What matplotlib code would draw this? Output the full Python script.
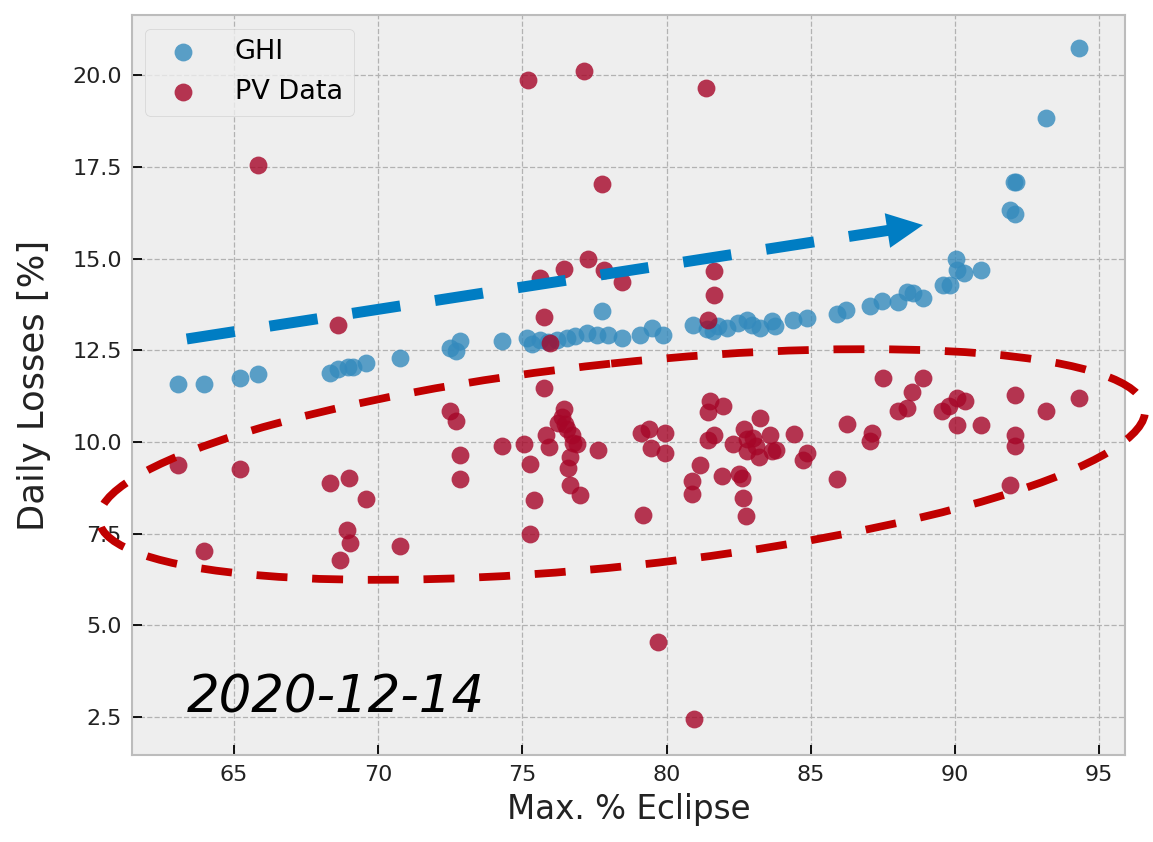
import matplotlib
matplotlib.use('Agg')
import matplotlib.pyplot as plt
from matplotlib.patches import Ellipse, Polygon
from matplotlib.lines import Line2D
from matplotlib.transforms import Affine2D

# ---------------- data ----------------
ghi_x = [63.06, 63.96, 65.21, 65.82, 68.33, 68.62, 68.96, 69.14, 69.58, 70.76,
         72.49, 72.70, 72.84, 74.29, 75.15, 75.33, 75.61, 75.89, 76.19, 76.54,
         76.83, 77.23, 77.58, 77.75, 77.98, 78.45, 79.08, 79.49, 79.89, 80.93,
         81.40, 81.62, 81.79, 82.09, 82.49, 82.78, 82.97, 83.24, 83.65, 83.77,
         84.40, 84.86, 85.91, 86.23, 87.06, 87.47, 88.04, 88.35, 88.56, 88.89,
         89.58, 89.83, 90.04, 90.07, 90.30, 90.90, 91.92, 92.09, 92.05, 92.12,
         93.16, 94.29]
ghi_y = [11.59, 11.59, 11.75, 11.86, 11.87, 11.98, 12.04, 12.04, 12.14, 12.28,
         12.57, 12.48, 12.75, 12.75, 12.84, 12.66, 12.79, 12.74, 12.79, 12.84,
         12.88, 12.98, 12.93, 13.57, 12.93, 12.84, 12.93, 13.11, 12.93, 13.20,
         13.07, 13.02, 13.15, 13.11, 13.25, 13.34, 13.18, 13.11, 13.29, 13.16,
         13.34, 13.39, 13.50, 13.61, 13.72, 13.84, 13.81, 14.08, 14.07, 13.93,
         14.29, 14.27, 15.00, 14.70, 14.61, 14.70, 16.34, 16.23, 17.09, 17.09,
         18.85, 20.76]

pv_x = [63.07, 63.96, 65.21, 65.82, 68.33, 68.60, 68.68, 68.93, 69.00, 69.02,
        69.57, 70.76, 72.49, 72.70, 72.84, 72.84, 74.29, 75.07, 75.21, 75.27,
        75.41, 75.27, 75.61, 75.76, 75.76, 75.82, 75.92, 75.96, 76.25, 76.46,
        76.45, 76.54, 76.71, 76.77, 76.65, 76.60, 76.65, 77.01, 77.14, 77.29,
        77.64, 77.77, 77.84, 78.47, 79.12, 79.40, 79.46, 79.93, 79.95, 79.17,
        79.71, 80.90, 80.90, 80.97, 81.16, 81.37, 81.45, 81.66, 81.66, 81.52,
        81.45, 81.95, 81.45, 81.65, 81.93, 82.32, 82.50, 82.63, 82.64, 82.77,
        82.67, 82.78, 83.00, 82.78, 83.12, 83.22, 83.24, 83.59, 83.65, 83.80,
        84.42, 84.87, 84.75, 85.91, 86.25, 87.06, 87.12, 87.50, 88.04, 88.33,
        88.53, 88.88, 89.55, 89.81, 90.07, 90.36, 90.07, 90.90, 92.07, 92.07,
        92.07, 91.92, 93.16, 94.29, 76.48, 76.90, 76.38]
pv_y = [9.36, 7.01, 9.25, 17.55, 8.87, 13.18, 6.78, 7.61, 9.02, 7.23,
        8.43, 7.16, 10.84, 10.57, 9.63, 8.98, 9.90, 9.95, 19.88, 9.39,
        8.41, 7.48, 14.48, 11.48, 13.40, 10.20, 9.85, 12.70, 10.52, 10.91,
        14.72, 10.34, 10.20, 9.98, 9.59, 9.30, 8.83, 8.54, 20.11, 14.99,
        9.79, 17.05, 14.70, 14.37, 10.23, 10.34, 9.84, 10.23, 9.71, 8.00,
        4.54, 8.93, 8.58, 2.43, 9.36, 19.66, 13.34, 14.00, 14.66, 11.11,
        10.82, 10.99, 10.06, 10.18, 9.07, 9.95, 9.12, 9.02, 8.48, 7.99,
        10.34, 10.07, 10.11, 9.75, 9.89, 9.58, 10.66, 10.20, 9.75, 9.78,
        10.22, 9.69, 9.50, 8.98, 10.50, 10.02, 10.23, 11.75, 10.84, 10.93,
        11.37, 11.75, 10.84, 10.98, 11.21, 11.11, 10.45, 10.45, 11.27, 10.20,
        9.89, 8.82, 10.84, 11.21, 10.48, 9.93, 10.67]

x_ticks = [65, 70, 75, 80, 85, 90, 95]
y_ticks = [2.5, 5.0, 7.5, 10.0, 12.5, 15.0, 17.5, 20.0]
series_labels = ['GHI', 'PV Data']
date_label = '2020-12-14'

# ---------------- style ----------------
plt.style.use('bmh')
plt.rcParams['font.family'] = ['DejaVu Sans']
plt.rcParams['lines.scale_dashes'] = False

W, H = 1153, 842
fig = plt.figure(figsize=(W / 100, H / 100), dpi=100)
fig.patch.set_facecolor('white')
ax = fig.add_axes([0.1142, 0.1033, 0.9757 - 0.1142, 0.9822 - 0.1033])

ax.scatter(ghi_x, ghi_y, s=165, alpha=0.8, color='#348ABD', linewidths=0,
           label=series_labels[0], zorder=2)
ax.scatter(pv_x, pv_y, s=165, alpha=0.8, color='#A60628', linewidths=0,
           label=series_labels[1], zorder=3)

ax.set_xlim(61.45, 95.9)
ax.set_ylim(1.456, 21.65)
ax.set_xticks(x_ticks)
ax.set_yticks(y_ticks)
ax.set_yticklabels([f'{v:.1f}' for v in y_ticks])
ax.tick_params(labelsize=16, length=7, width=1.3, color='black', pad=7,
               direction='in', labelcolor='#222222')
ax.set_xlabel('Max. % Eclipse', fontsize=23.5, labelpad=6, color='#222222')
ax.set_ylabel('Daily Losses [%]', fontsize=25.5, labelpad=15, color='#222222')
ax.grid(True, linestyle='--', color='#b2b2b2', linewidth=0.9)
ax.set_axisbelow(True)
for sp in ax.spines.values():
    sp.set_linewidth(1.5)
    sp.set_color('#bcbcbc')

ax.legend(loc='upper left', fontsize=19.5, handletextpad=0.9)

ax.text(0.0557, 0.0581, date_label, transform=ax.transAxes, fontsize=37,
        style='italic', ha='left', va='baseline', color='black', zorder=6)

# ---------------- overlaid annotations (pixel space, y down) ----------------
pix = Affine2D().scale(1.0 / W, -1.0 / H).translate(0, 1) + fig.transFigure

ell = Ellipse((622, 464.5), 1052, 203, angle=-6.1, transform=pix, fill=False,
              edgecolor='#C00000', linewidth=5.6,
              linestyle=(0, (22.3, 17.8)), clip_on=False, zorder=10)
fig.add_artist(ell)

blue = '#007DC3'
Sx, Sy = 186.7, 339.0
Tx, Ty = 923.0, 225.0
dx, dy = Tx - Sx, Ty - Sy
L = (dx ** 2 + dy ** 2) ** 0.5
ux, uy = dx / L, dy / L
nx, ny = -uy, ux
hl, hw = 36.0, 17.5
Bx, By = Tx - hl * ux, Ty - hl * uy
shaft = Line2D([Sx, Bx + 4 * ux], [Sy, By + 4 * uy], transform=pix, color=blue,
               linewidth=7.9, dashes=(35, 25.3), dash_capstyle='butt',
               clip_on=False, zorder=11)
fig.add_artist(shaft)
head = Polygon([[Tx, Ty], [Bx + hw * nx, By + hw * ny], [Bx - hw * nx, By - hw * ny]],
               closed=True, transform=pix, facecolor=blue, edgecolor='none',
               clip_on=False, zorder=11)
fig.add_artist(head)

fig.savefig('out.png', dpi=100, facecolor='white')
